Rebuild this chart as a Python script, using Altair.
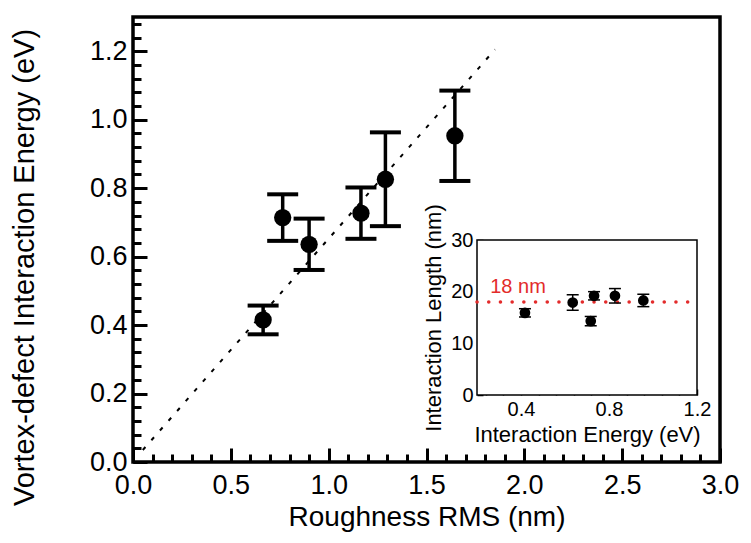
import altair as alt
import pandas as pd

# ---------------- data ----------------
rms = [0.665, 0.765, 0.90, 1.165, 1.29, 1.645]
energy = [0.415, 0.714, 0.636, 0.727, 0.826, 0.953]
energy_err = [0.042, 0.068, 0.075, 0.075, 0.137, 0.132]

fit_x = [0.05, 1.85]
fit_y = [0.035, 1.205]

ins_energy = [0.418, 0.635, 0.717, 0.732, 0.827, 0.956]
ins_length = [15.9, 17.9, 14.3, 19.2, 19.2, 18.3]
ins_err = [0.8, 1.5, 0.9, 0.8, 1.4, 1.2]

ref_length = [18]
ref_label = ["18 nm"]

# tick values
x_major = [0.0, 0.5, 1.0, 1.5, 2.0, 2.5, 3.0]
x_minor = [round(i * 0.1, 2) for i in range(31)]
y_major = [0.0, 0.2, 0.4, 0.6, 0.8, 1.0, 1.2]
y_minor = [round(i * 0.04, 2) for i in range(33)]
ix_major = [0.4, 0.8, 1.2]
ix_minor = [0.24, 0.32, 0.48, 0.56, 0.64, 0.72, 0.88, 0.96, 1.04, 1.12]
iy_major = [0, 10, 20, 30]
iy_minor = [2, 4, 6, 8, 12, 14, 16, 18, 22, 24, 26, 28]

# ---------------- layout constants ----------------
W, H = 587, 445
FONT = "Liberation Sans"
RED = "#e32b2b"
INS_X0, INS_X1 = 344, 564      # inset frame, plot px
INS_YB, INS_YT = 378, 223

df_main = pd.DataFrame({"rms": rms, "e": energy, "err": energy_err})
df_main["lo"] = df_main["e"] - df_main["err"]
df_main["hi"] = df_main["e"] + df_main["err"]
df_fit = pd.DataFrame({"x": fit_x, "y": fit_y})

df_ins = pd.DataFrame({"e": ins_energy, "L": ins_length, "err": ins_err})
df_ins["lo"] = df_ins["L"] - df_ins["err"]
df_ins["hi"] = df_ins["L"] + df_ins["err"]
df_frame = pd.DataFrame({"x0": [0.2], "x1": [1.2], "y0": [0], "y1": [30]})
df_ref = pd.DataFrame({"x0": [0.2], "x1": [1.2], "y": ref_length})
df_lab = pd.DataFrame({"x": [0.26], "y": [19.7], "t": ref_label})

xs = alt.Scale(domain=[0, 3], nice=False, zero=False)
ys = alt.Scale(domain=[0, 1.3], nice=False, zero=False)
xs2 = alt.Scale(domain=[0.2, 1.2], range=[INS_X0, INS_X1], nice=False, zero=False)
ys2 = alt.Scale(domain=[0, 30], range=[INS_YB, INS_YT], nice=False, zero=False)

common = dict(domain=False, grid=False, tickColor="black", labelColor="black",
              titleColor="black", labelFont=FONT, titleFont=FONT,
              titleFontWeight="normal", labelFlush=False, labelOverlap=False)

ax_x_major = alt.Axis(orient="bottom", values=x_major, format=".1f", tickSize=14,
                      offset=-14, tickWidth=3, labelFontSize=27, labelPadding=10,
                      title="Roughness RMS (nm)", titleFontSize=28, titlePadding=5,
                      **common)
ax_x_minor = alt.Axis(orient="bottom", values=x_minor, tickSize=8, offset=-8,
                      tickWidth=3, labels=False, title=None, **common)
ax_y_major = alt.Axis(orient="left", values=y_major, format=".1f", tickSize=14,
                      offset=-14, tickWidth=3, labelFontSize=27, labelPadding=6,
                      title="Vortex-defect Interaction Energy (eV)", titleFontSize=29,
                      titlePadding=50, titleY=250, **common)
ax_y_minor = alt.Axis(orient="left", values=y_minor, tickSize=8, offset=-8,
                      tickWidth=3, labels=False, title=None, **common)

ax_ix_major = alt.Axis(orient="bottom", values=ix_major, format=".1f", tickSize=6,
                       offset=(INS_YB - 6) - H, tickWidth=1.5, labelFontSize=20,
                       labelPadding=4, title="Interaction Energy (eV)",
                       titleFontSize=22, titlePadding=5, **common)
ax_ix_minor = alt.Axis(orient="bottom", values=ix_minor, tickSize=3.5,
                       offset=(INS_YB - 3.5) - H, tickWidth=1.5, labels=False,
                       title=None, **common)
ax_iy_major = alt.Axis(orient="left", values=iy_major, format="d", tickSize=6,
                       offset=-(INS_X0 + 6), tickWidth=1.5, labelFontSize=20,
                       labelPadding=4, title="Interaction Length (nm)",
                       titleFontSize=22, titlePadding=5, **common)
ax_iy_minor = alt.Axis(orient="left", values=iy_minor, tickSize=3.5,
                       offset=-(INS_X0 + 3.5), tickWidth=1.5, labels=False,
                       title=None, **common)

# ---------------- main plot ----------------
fit = alt.Chart(df_fit).mark_line(color="black", strokeWidth=2, strokeDash=[4, 9]).encode(
    x=alt.X("x:Q", scale=xs, axis=ax_x_major),
    y=alt.Y("y:Q", scale=ys, axis=ax_y_major),
)
bars = alt.Chart(df_main).mark_rule(color="black", strokeWidth=3.5).encode(
    x=alt.X("rms:Q", scale=xs, axis=ax_x_minor),
    y=alt.Y("lo:Q", scale=ys, axis=ax_y_minor),
    y2="hi:Q",
)
cap_lo = alt.Chart(df_main).mark_tick(color="black", orient="horizontal", size=31,
                                      thickness=4, opacity=1).encode(
    x=alt.X("rms:Q", scale=xs, axis=None),
    y=alt.Y("lo:Q", scale=ys, axis=None),
)
cap_hi = alt.Chart(df_main).mark_tick(color="black", orient="horizontal", size=31,
                                      thickness=4, opacity=1).encode(
    x=alt.X("rms:Q", scale=xs, axis=None),
    y=alt.Y("hi:Q", scale=ys, axis=None),
)
pts = alt.Chart(df_main).mark_circle(color="black", size=300, opacity=1).encode(
    x=alt.X("rms:Q", scale=xs, axis=None),
    y=alt.Y("e:Q", scale=ys, axis=None),
)
main = alt.layer(fit, bars, cap_lo, cap_hi, pts).resolve_axis(x="independent", y="independent")

# ---------------- inset ----------------
frame = alt.Chart(df_frame).mark_rect(fill="white", stroke="black", strokeWidth=1.5).encode(
    x=alt.X("x0:Q", scale=xs2, axis=ax_ix_major),
    x2="x1:Q",
    y=alt.Y("y0:Q", scale=ys2, axis=ax_iy_major),
    y2="y1:Q",
)
ref = alt.Chart(df_ref).mark_rule(color=RED, strokeWidth=3.5, strokeCap="round",
                                  strokeDash=[0.1, 11.6]).encode(
    x=alt.X("x0:Q", scale=xs2, axis=ax_ix_minor),
    x2="x1:Q",
    y=alt.Y("y:Q", scale=ys2, axis=ax_iy_minor),
)
lab = alt.Chart(df_lab).mark_text(color=RED, font=FONT, fontSize=20, align="left",
                                  baseline="alphabetic").encode(
    x=alt.X("x:Q", scale=xs2, axis=None),
    y=alt.Y("y:Q", scale=ys2, axis=None),
    text="t:N",
)
ibars = alt.Chart(df_ins).mark_rule(color="black", strokeWidth=1.5).encode(
    x=alt.X("e:Q", scale=xs2, axis=None),
    y=alt.Y("lo:Q", scale=ys2, axis=None),
    y2="hi:Q",
)
icap_lo = alt.Chart(df_ins).mark_tick(color="black", orient="horizontal", size=12,
                                      thickness=1.5, opacity=1).encode(
    x=alt.X("e:Q", scale=xs2, axis=None),
    y=alt.Y("lo:Q", scale=ys2, axis=None),
)
icap_hi = alt.Chart(df_ins).mark_tick(color="black", orient="horizontal", size=12,
                                      thickness=1.5, opacity=1).encode(
    x=alt.X("e:Q", scale=xs2, axis=None),
    y=alt.Y("hi:Q", scale=ys2, axis=None),
)
ipts = alt.Chart(df_ins).mark_circle(color="black", size=115, opacity=1).encode(
    x=alt.X("e:Q", scale=xs2, axis=None),
    y=alt.Y("L:Q", scale=ys2, axis=None),
)
inset = alt.layer(frame, ref, lab, ibars, icap_lo, icap_hi, ipts).resolve_axis(
    x="independent", y="independent")

chart = alt.layer(main, inset).resolve_scale(x="independent", y="independent").properties(
    width=W, height=H,
    autosize=alt.AutoSizeParams(type="none"),
    padding={"left": 125, "top": 9, "right": 23, "bottom": 73},
    background="white",
).configure_view(stroke="black", strokeWidth=3.5)

chart.save("out.html", embed_options={"renderer": "svg", "actions": False})
